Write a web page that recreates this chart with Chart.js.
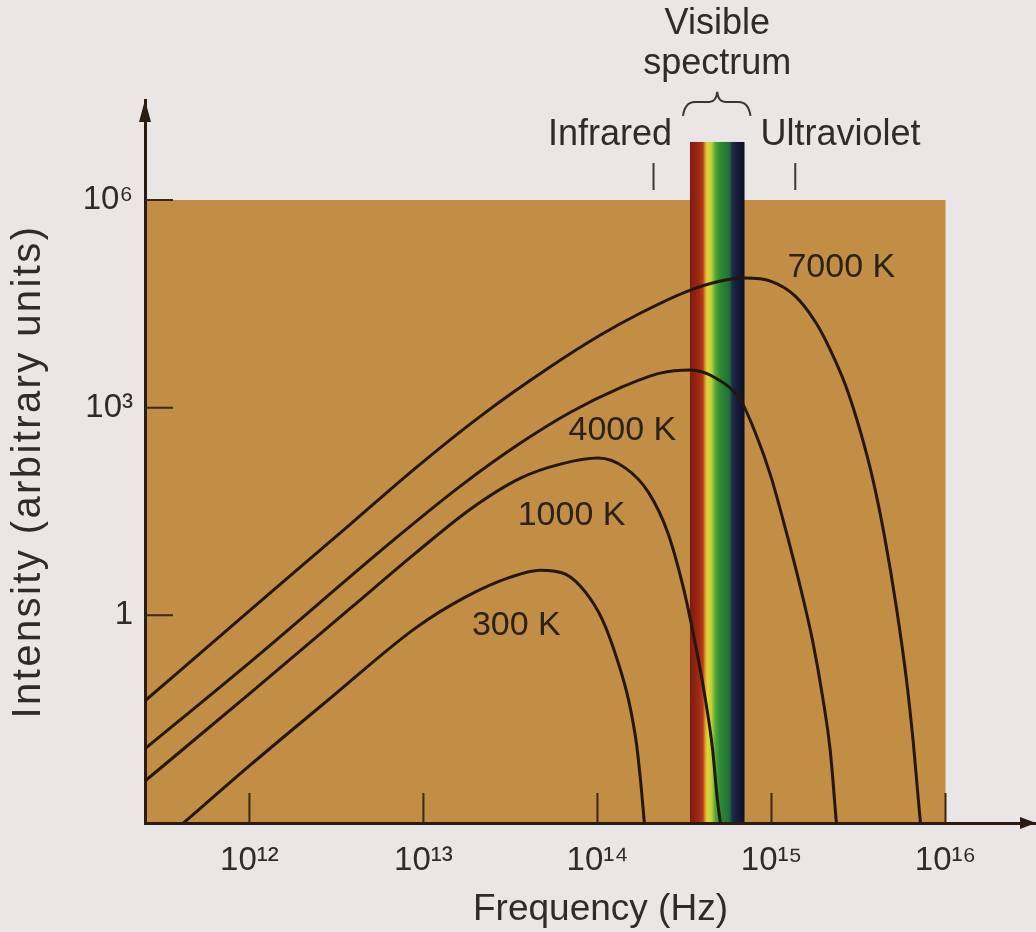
<!DOCTYPE html>
<html>
<head>
<meta charset="utf-8">
<title>Blackbody spectra</title>
<script src="https://cdn.jsdelivr.net/npm/chart.js@4.4.1/dist/chart.umd.min.js"></script>
<style>
  html, body { margin: 0; padding: 0; background: #ebe6e6; }
  canvas { display: block; }
</style>
</head>
<body>
<canvas id="spectrumChart" width="1036" height="932"></canvas>
<script>
// values: frequency in Hz, intensity in arbitrary units
const freq7000 = [2.5e11, 1.01e12, 3.81e12, 9.0e12, 2.13e13, 5.23e13, 1.04e14, 1.77e14, 3.2e14, 5.09e14, 7.09e14, 9.87e14, 1.37e15, 1.79e15, 2.18e15, 2.66e15, 3.25e15, 3.81e15, 4.46e15, 5.23e15, 5.97e15, 6.55e15, 6.9e15, 7.18e15];
const int7000  = [0.0576, 1.19, 20.8, 134, 756, 3735, 11200, 23300, 46800, 67500, 74600, 67500, 41000, 17260, 6800, 2120, 444, 96, 13.9, 1.27, 0.116, 0.0133, 0.003, 0.001];

const freq4000 = [2.5e11, 1.01e12, 6.72e12, 1.63e13, 3.61e13, 7.0e13, 1.36e14, 2.3e14, 3.42e14, 4.77e14, 6.63e14, 8.09e14, 9.87e14, 1.2e15, 1.47e15, 1.72e15, 1.96e15, 2.18e15, 2.36e15];
const int4000  = [0.0117, 0.211, 12.2, 73.6, 308, 860, 1950, 3160, 3490, 2680, 1290, 430, 106, 18.2, 2.47, 0.438, 0.0703, 0.0106, 0.001];

const freq1000 = [2.5e11, 1.01e12, 3.81e12, 9.0e12, 1.86e13, 3.61e13, 6.13e13, 1.01e14, 1.45e14, 1.96e14, 2.53e14, 3.12e14, 3.66e14, 4.18e14, 4.58e14, 4.89e14, 5.09e14];
const int1000  = [0.004, 0.0751, 1.27, 7.92, 34.2, 96, 153, 187, 134, 60.3, 15.9, 2.47, 0.371, 0.0595, 0.012, 0.00214, 0.001];

const freq300 = [4.18e11, 1.01e12, 2.92e12, 9.0e12, 1.74e13, 3.16e13, 4.7e13, 6.55e13, 8.53e13, 1.07e14, 1.29e14, 1.51e14, 1.68e14, 1.79e14, 1.86e14];
const int300  = [0.001, 0.00684, 0.0636, 0.653, 1.83, 3.56, 4.5, 3.94, 2.16, 0.852, 0.241, 0.0595, 0.0133, 0.00298, 0.001];

const curveLabels = ['7000 K', '4000 K', '1000 K', '300 K'];
const labelFreq = [2.52e15, 1.39e14, 7.1e13, 3.42e13];
const labelIntensity = [1.04e5, 459, 28, 0.72];

const xTickValues = [1e12, 1e13, 1e14, 1e15, 1e16];
const xTickLabels = ['10¹²', '10¹³', '10¹⁴', '10¹⁵', '10¹⁶'];
const yTickValues = [1, 1e3, 1e6];
const yTickLabels = ['1', '10³', '10⁶'];

// visible band and the infrared / ultraviolet markers
const visibleBand = [3.4e14, 7.0e14];
const visibleTop = 6.9e6;
const markerFreq = [2.1e14, 1.37e15];

const inkColor = '#2f2b2b';
const curveColor = '#24170c';
const fontFamily = "'Liberation Sans', Arial, Helvetica, sans-serif";

const series = [
  { f: freq7000, v: int7000 },
  { f: freq4000, v: int4000 },
  { f: freq1000, v: int1000 },
  { f: freq300, v: int300 }
];

const bandColors = [
  [0.00, '#7a1c10'], [0.18, '#a42a16'], [0.24, '#b8401a'], [0.28, '#d8a028'],
  [0.32, '#e4d43a'], [0.40, '#b8d03a'], [0.46, '#5aa83a'], [0.55, '#2e8c34'],
  [0.72, '#1f6e3a'], [0.78, '#1c2a4a'], [0.88, '#151a38'], [1.00, '#0e0f22']
];

const spectrumDecor = {
  id: 'spectrumDecor',
  beforeDraw(chart) {
    const { ctx, chartArea, scales: { x, y } } = chart;
    const left = chartArea.left;
    const right = x.getPixelForValue(xTickValues[xTickValues.length - 1]);
    const top = y.getPixelForValue(yTickValues[yTickValues.length - 1]);
    const bottom = chartArea.bottom;
    ctx.save();
    ctx.fillStyle = '#c28d44';
    ctx.fillRect(left, top, right - left, bottom - top);

    const b0 = x.getPixelForValue(visibleBand[0]);
    const b1 = x.getPixelForValue(visibleBand[1]);
    const bt = y.getPixelForValue(visibleTop);
    const grad = ctx.createLinearGradient(b0, 0, b1, 0);
    bandColors.forEach(([stop, color]) => grad.addColorStop(stop, color));
    ctx.fillStyle = grad;
    ctx.fillRect(b0, bt, b1 - b0, bottom - bt);
    ctx.restore();
  },
  beforeDatasetsDraw(chart) {
    const { ctx, chartArea, scales: { x, y } } = chart;
    ctx.save();
    ctx.strokeStyle = '#3a2812';
    ctx.lineWidth = 2;
    ctx.beginPath();
    xTickValues.forEach(v => {
      const px = x.getPixelForValue(v);
      ctx.moveTo(px, chartArea.bottom);
      ctx.lineTo(px, chartArea.bottom - 30);
    });
    yTickValues.forEach(v => {
      const py = y.getPixelForValue(v);
      ctx.moveTo(chartArea.left, py);
      ctx.lineTo(chartArea.left + 28, py);
    });
    ctx.stroke();

    // infrared / ultraviolet markers above the panel
    const top = y.getPixelForValue(yTickValues[yTickValues.length - 1]);
    ctx.strokeStyle = '#3c3838';
    ctx.beginPath();
    markerFreq.forEach(f => {
      const px = x.getPixelForValue(f);
      ctx.moveTo(px, top - 10);
      ctx.lineTo(px, top - 37);
    });
    ctx.stroke();
    ctx.restore();
  },
  afterDraw(chart) {
    const { ctx, chartArea, scales: { x, y } } = chart;
    ctx.save();

    // curve labels
    ctx.fillStyle = '#2a2218';
    ctx.font = '34px ' + fontFamily;
    ctx.textAlign = 'center';
    ctx.textBaseline = 'middle';
    curveLabels.forEach((t, i) => {
      ctx.fillText(t, x.getPixelForValue(labelFreq[i]), y.getPixelForValue(labelIntensity[i]));
    });

    // labels above the panel
    const b0 = x.getPixelForValue(visibleBand[0]);
    const b1 = x.getPixelForValue(visibleBand[1]);
    const bc = (b0 + b1) / 2;
    const bt = y.getPixelForValue(visibleTop);
    ctx.fillStyle = inkColor;
    ctx.font = '36px ' + fontFamily;
    ctx.fillText('Visible', bc, bt - 118);
    ctx.fillText('spectrum', bc, bt - 78);
    ctx.textAlign = 'right';
    ctx.fillText('Infrared', b0 - 18, bt - 7);
    ctx.textAlign = 'left';
    ctx.fillText('Ultraviolet', b1 + 16, bt - 7);

    // brace over the visible band
    const L = b0 - 7, R = b1 + 6;
    const yb = bt - 26, ym = bt - 40, yt = bt - 50;
    ctx.strokeStyle = '#3a3636';
    ctx.lineWidth = 2;
    ctx.beginPath();
    ctx.moveTo(L, yb);
    ctx.quadraticCurveTo(L + 2, ym, L + 12, ym);
    ctx.lineTo(bc - 8, ym);
    ctx.quadraticCurveTo(bc - 1, ym, bc, yt);
    ctx.quadraticCurveTo(bc + 1, ym, bc + 8, ym);
    ctx.lineTo(R - 12, ym);
    ctx.quadraticCurveTo(R - 2, ym, R, yb);
    ctx.stroke();

    // axis titles
    ctx.fillStyle = inkColor;
    ctx.textAlign = 'center';
    ctx.font = '37px ' + fontFamily;
    ctx.fillText('Frequency (Hz)', (chartArea.left + chartArea.right) / 2 + 10, chartArea.bottom + 87);
    ctx.save();
    ctx.translate(29, (chartArea.top + chartArea.bottom) / 2 + 10);
    ctx.rotate(-Math.PI / 2);
    ctx.font = '40px ' + fontFamily;
    ctx.letterSpacing = '2.4px';
    ctx.fillText('Intensity (arbitrary units)', 0, 0);
    ctx.restore();

    // axis arrowheads
    ctx.fillStyle = '#2a1c10';
    ctx.beginPath();
    ctx.moveTo(chartArea.left, chartArea.top);
    ctx.lineTo(chartArea.left - 6, chartArea.top + 22);
    ctx.lineTo(chartArea.left + 6, chartArea.top + 22);
    ctx.closePath();
    ctx.fill();
    ctx.beginPath();
    ctx.moveTo(chartArea.right, chartArea.bottom);
    ctx.lineTo(chartArea.right - 16, chartArea.bottom - 6);
    ctx.lineTo(chartArea.right - 16, chartArea.bottom + 6);
    ctx.closePath();
    ctx.fill();
    ctx.restore();
  }
};

Chart.defaults.font.family = fontFamily;
Chart.defaults.color = inkColor;

const ctx = document.getElementById('spectrumChart').getContext('2d');
new Chart(ctx, {
  type: 'line',
  data: {
    datasets: series.map((s, i) => ({
      label: curveLabels[i],
      data: s.f.map((f, j) => ({ x: f, y: s.v[j] })),
      borderColor: curveColor,
      borderWidth: 3,
      pointRadius: 0,
      cubicInterpolationMode: 'monotone',
      fill: false
    }))
  },
  options: {
    responsive: false,
    animation: false,
    layout: { padding: { top: 100, right: 0, bottom: 0, left: 0 } },
    plugins: {
      legend: { display: false },
      tooltip: { enabled: false }
    },
    scales: {
      x: {
        type: 'logarithmic',
        min: Math.pow(10, 11.4),
        max: Math.pow(10, 16.52),
        afterBuildTicks: scale => { scale.ticks = xTickValues.map(v => ({ value: v })); },
        afterFit: scale => { scale.height = 109; },
        grid: { display: false, drawTicks: false },
        border: { display: true, color: '#2a1c10', width: 3 },
        ticks: {
          autoSkip: false,
          maxRotation: 0,
          padding: 18,
          font: { size: 33 },
          callback: value => xTickLabels[xTickValues.indexOf(value)]
        },
        title: { display: false }
      },
      y: {
        type: 'logarithmic',
        min: 0.001,
        max: Math.pow(10, 7.445),
        afterBuildTicks: scale => { scale.ticks = yTickValues.map(v => ({ value: v })); },
        afterFit: scale => { scale.width = 145; },
        grid: { display: false, drawTicks: false },
        border: { display: true, color: '#2a1c10', width: 3 },
        ticks: {
          autoSkip: false,
          padding: 12,
          font: { size: 33 },
          callback: value => yTickLabels[yTickValues.indexOf(value)]
        },
        title: { display: false }
      }
    }
  },
  plugins: [spectrumDecor]
});
</script>
</body>
</html>
